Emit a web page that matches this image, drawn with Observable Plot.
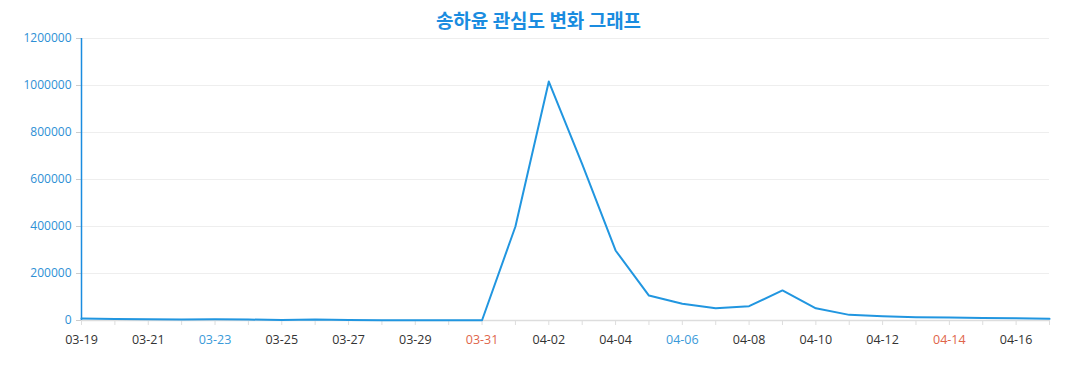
<!DOCTYPE html>
<html>
<head>
<meta charset="utf-8">
<script src="https://cdn.jsdelivr.net/npm/d3@7"></script>
<script src="https://cdn.jsdelivr.net/npm/@observablehq/plot@0.6"></script>
<style>
  html, body { margin: 0; padding: 0; background: #fff; overflow: hidden; }
  #wrap { position: relative; width: 1077px; height: 390px; }
  #wrap svg { display: block; }
  #title { position: absolute; top: 6px; left: 0; width: 1077px; text-align: center;
    font-family: "Noto Sans CJK KR", "Noto Sans", sans-serif; font-weight: bold; font-size: 19px; color: #1a8ce0; }
</style>
</head>
<body>
<div id="wrap"><div id="title">송하윤 관심도 변화 그래프</div></div>
<script>
const dates = ["03-19","03-20","03-21","03-22","03-23","03-24","03-25","03-26","03-27","03-28","03-29","03-30","03-31",
  "04-01","04-02","04-03","04-04","04-05","04-06","04-07","04-08","04-09","04-10","04-11","04-12","04-13","04-14","04-15","04-16","04-17"];
const values = [8000,6000,5000,4500,5000,4000,2500,4000,2000,1500,1000,1500,1000,
  400000,1017000,665000,298000,106000,71000,52000,61000,128000,52000,24000,18000,14000,12500,11000,10000,7000];
const yTicks = [0,200000,400000,600000,800000,1000000,1200000];
const labelDates = dates.filter((d, i) => i % 2 === 0);
const blueDates = ["03-23","04-06"];
const redDates = ["03-31","04-14"];

const data = dates.map((d, i) => ({date: d, value: values[i]}));
const labelColor = d => blueDates.includes(d) ? "#3a9ad9" : redDates.includes(d) ? "#e0654a" : "#333333";

const chart = Plot.plot({
  width: 1077,
  height: 390,
  marginTop: 38,
  marginBottom: 70,
  marginLeft: 81,
  marginRight: 28,
  style: {fontFamily: "'Open Sans', 'Noto Sans', sans-serif", fontSize: "12px", background: "transparent"},
  x: {type: "point", domain: dates, padding: 0, round: false},
  y: {domain: [0, 1200000]},
  color: {type: "identity"},
  marks: [
    Plot.gridY(yTicks, {stroke: "#eeeeee", strokeOpacity: 1}),
    Plot.ruleY([0], {stroke: "#dddddd", strokeWidth: 1.5}),
    Plot.axisX({ticks: dates, tickSize: 5, tickFormat: () => "", stroke: "#dddddd", label: null}),
    Plot.text(labelDates, {x: d => d, frameAnchor: "bottom", dy: 23, text: d => d, fill: d => labelColor(d), fontSize: 12.5}),
    Plot.axisY({ticks: yTicks, tickSize: 5, tickPadding: 5, stroke: "#cccccc", fill: "#2d8fd5", tickFormat: d => String(d), label: null, fontSize: 12}),
    Plot.ruleX([dates[0]], {stroke: "#1a8ce0", strokeWidth: 1.5}),
    Plot.line(data, {x: "date", y: "value", stroke: "#2196e0", strokeWidth: 2})
  ]
});
document.getElementById("wrap").appendChild(chart);
</script>
</body>
</html>
